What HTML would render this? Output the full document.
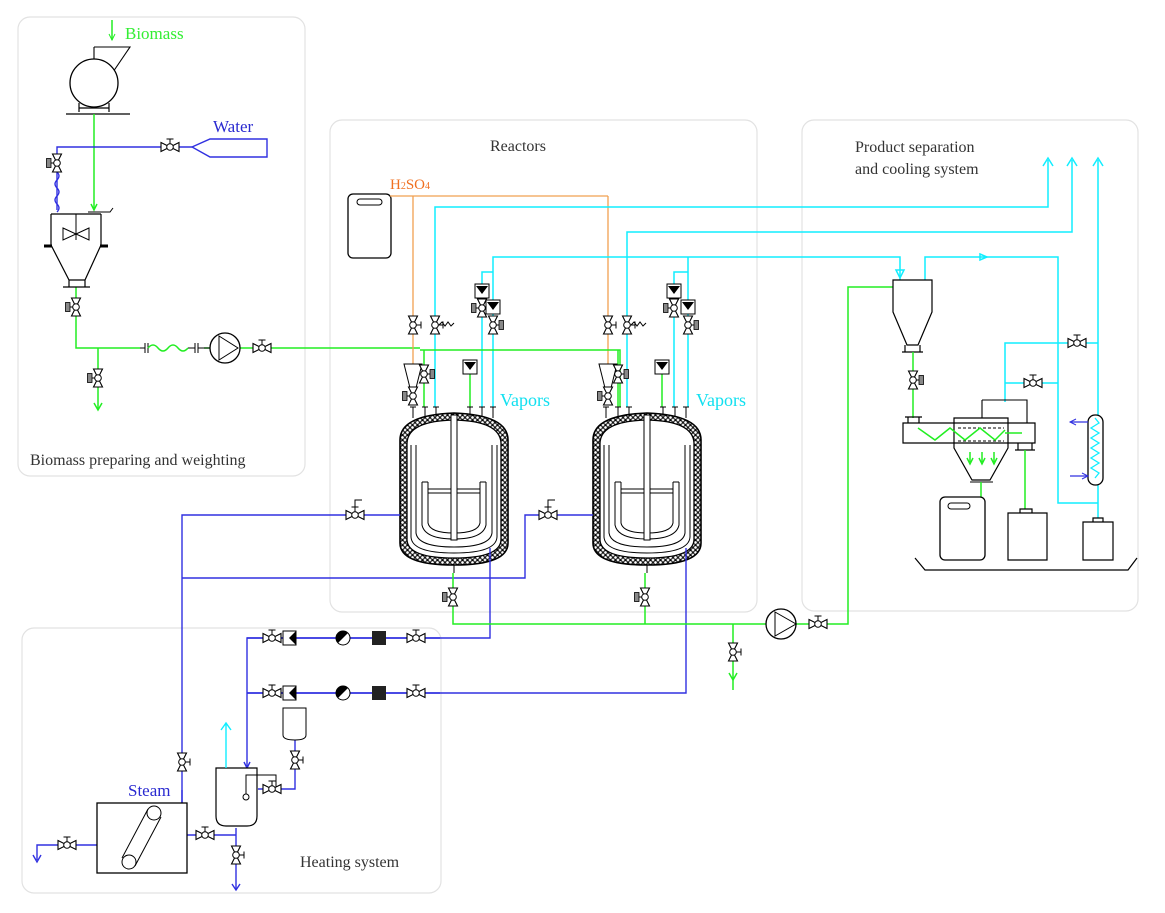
<!DOCTYPE html>
<html><head><meta charset="utf-8"><style>
html,body{margin:0;padding:0;background:#fff;}
svg{display:block;}
svg text{font-family:"Liberation Serif","DejaVu Serif","Times New Roman",serif !important;}
</style></head><body>
<svg width="1165" height="913" viewBox="0 0 1165 913" xmlns="http://www.w3.org/2000/svg" font-family="'Liberation Serif', 'DejaVu Serif', serif">
<defs>
<g id="hv"><path d="M-9,-4.5 L0,0 L-9,4.5 Z M9,-4.5 L0,0 L9,4.5 Z" fill="#fff" stroke="#000" stroke-width="1.1"/><circle r="3.3" fill="#fff" stroke="#000"/><path d="M0,-3 V-8 M-3.5,-8 H3.5" stroke="#000"/></g>
<g id="vv"><path d="M-4.5,-9 L0,0 L4.5,-9 Z M-4.5,9 L0,0 L4.5,9 Z" fill="#fff" stroke="#000" stroke-width="1.1"/><circle r="3.3" fill="#fff" stroke="#000"/><path d="M3,0 H8 M8,-3.5 V3.5" stroke="#000"/></g>
<g id="vvm"><path d="M-4.5,-9 L0,0 L4.5,-9 Z M-4.5,9 L0,0 L4.5,9 Z" fill="#fff" stroke="#000" stroke-width="1.1"/><circle r="3.3" fill="#fff" stroke="#000"/><path d="M3,0 H6" stroke="#000"/><rect x="6" y="-4.5" width="4.5" height="9" fill="#888" stroke="#000" stroke-width=".8"/></g>
<g id="vvml"><path d="M-4.5,-9 L0,0 L4.5,-9 Z M-4.5,9 L0,0 L4.5,9 Z" fill="#fff" stroke="#000" stroke-width="1.1"/><circle r="3.3" fill="#fff" stroke="#000"/><path d="M-3,0 H-6" stroke="#000"/><rect x="-10.5" y="-4.5" width="4.5" height="9" fill="#888" stroke="#000" stroke-width=".8"/></g>
<g id="inst"><rect x="-7" y="-7" width="14" height="14" fill="#fff" stroke="#000"/><path d="M-6,-5 H6 L0,3 Z" fill="#000"/></g>
<pattern id="ins" width="5" height="5" patternUnits="userSpaceOnUse"><rect width="5" height="5" fill="#fff"/><circle cx="2.5" cy="2.5" r="1.9" fill="none" stroke="#000" stroke-width="1.1"/></pattern>
<g id="reactor">
<path d="M0,25 Q0,0 54,-2 Q108,0 108,25 V128 Q108,150 54,150 Q0,150 0,128 Z" fill="url(#ins)" stroke="#000" stroke-width="1.6"/>
<path d="M7,28 Q8,6 54,5 Q100,6 101,28 V125 Q100,143 54,143 Q8,143 7,125 Z" fill="#fff" stroke="#000" stroke-width="1.3"/>
<path d="M11,30 V122 Q12,138 54,138 Q96,138 97,122 V30" fill="none" stroke="#000"/>
<path d="M16,30 V118 Q18,132 54,132 Q90,132 92,118 V30" fill="none" stroke="#000"/>
<path d="M22,67 V110 Q25,124 54,124 Q83,124 86,110 V67 M28,67 V108 Q30,118 54,118 Q78,118 80,108 V67 M22,67 H28 M80,67 H86 M28,74 H80 M28,78 H80" fill="none" stroke="#000"/>
<rect x="51" y="0" width="6" height="125" fill="#fff" stroke="#000"/>
<path d="M13,-8 V3 M25,-8 V2 M36,-8 V1 M70,-8 V1 M82,-8 V2 M93,-8 V3" stroke="#000"/>
<path d="M10,-8 H16 M22,-8 H28 M33,-8 H39 M67,-8 H73 M79,-8 H85 M90,-8 H96" stroke="#000"/>
<path d="M54,150 V158" stroke="#000"/>
</g>
</defs>

<g fill="none" stroke="#e2e2e2" stroke-width="1.2">
<rect x="18" y="17" width="287" height="459" rx="12"/>
<rect x="330" y="120" width="427" height="492" rx="12"/>
<rect x="802" y="120" width="336" height="491" rx="12"/>
<rect x="22" y="628" width="419" height="265" rx="12"/>
</g>

<text x="125" y="39" font-size="17" fill="#33ee33">Biomass</text>
<path d="M112,20 V40" stroke="#22ee22" fill="none" stroke-width="1.5"/><path d="M109,34 L112,40 L115,34" stroke="#22ee22" fill="none"/>
<path d="M94,47 H130 L113,72 M94,47 V60" fill="none" stroke="#000" stroke-width="1.1"/>
<circle cx="94" cy="83" r="24" fill="#fff" stroke="#000" stroke-width="1.3"/>
<path d="M79,103 V112 M109,103 V112 M79,108 H109 M66,114 H130" stroke="#000" fill="none" stroke-width="1.2"/>
<g stroke="#22ee22" fill="none" stroke-width="1.5">
<path d="M94,114 V210"/><path d="M91,204 L94,210 L97,204"/>
<path d="M76,287 V348 H420 M98,348 V410"/>
<path d="M94,403 L98,410 L102,403"/>
</g>
<path d="M57,210 V170 M57,155 V147 H192" stroke="#3030e0" fill="none" stroke-width="1.4"/>
<path d="M57,172 q4,4 0,8 q-4,4 0,8 q4,4 0,8 q-4,4 0,8 q4,4 0,8" stroke="#3030e0" fill="none" stroke-width="1.3"/>
<use href="#vvml" x="57" y="163"/>
<use href="#hv" x="170" y="147"/>
<path d="M192,147 L210,139 H267 V157 H210 Z" fill="none" stroke="#3030e0" stroke-width="1.4"/>
<text x="213" y="132" font-size="17" fill="#2a2ad0">Water</text>
<path d="M51,214 H101 M51,214 V245 L69,280 H85 L101,245 V214 M69,280 V287 M85,280 V287 M63,287 H90" fill="none" stroke="#000" stroke-width="1.2"/>
<path d="M76,214 V240 M63,228 L76,234 L63,240 Z M89,228 L76,234 L89,240 Z" fill="none" stroke="#000"/>
<path d="M44,246 H52 M100,246 H108" stroke="#000" stroke-width="3"/>
<path d="M88,212 H110 L113,208" stroke="#000" fill="none"/>
<use href="#vvml" x="76" y="307"/>
<use href="#vvml" x="98" y="378"/>
<rect x="140" y="340" width="64" height="16" fill="#fff"/>
<path d="M140,348 H145 M145,343 V353 M148,343 V353 M188,348 H195 M195,343 V353 M198,343 V353 M198,348 H210" stroke="#000" fill="none"/>
<path d="M148,348 q5,-6 10,0 q5,6 10,0 q5,-6 10,0 q5,6 10,0 L188,348" stroke="#22ee22" fill="none" stroke-width="1.5"/>
<circle cx="225" cy="348" r="15" fill="#fff" stroke="#000" stroke-width="1.3"/>
<path d="M219,336 L238,348 L219,360 Z" fill="none" stroke="#000"/>
<use href="#hv" x="262" y="348"/>
<text x="30" y="465" font-size="16" fill="#333">Biomass preparing and weighting</text>

<text x="490" y="151" font-size="16" fill="#333">Reactors</text>
<rect x="348" y="194" width="43" height="64" rx="5" fill="#fff" stroke="#000" stroke-width="1.3"/>
<rect x="357" y="199" width="25" height="6" rx="3" fill="none" stroke="#000"/>
<text x="390" y="189" font-size="15" fill="#f07020">H<tspan font-size="10">2</tspan>SO<tspan font-size="10">4</tspan></text>
<path d="M390,196 H608 M413,196 V370 M608,196 V370" stroke="#f0a050" fill="none" stroke-width="1.3"/>
<g stroke="#11eeff" fill="none" stroke-width="1.5">
<path d="M435,407 V207 H1048 V160"/>
<path d="M627,407 V232 H1072 V160"/>
<path d="M482,407 V272 H493 V257 H900 V280 M493,272 V407"/>
<path d="M674,407 V272 H688 V257 M688,272 V407"/>
<path d="M925,280 V257 H1058 V503 H1098 M1098,160 V525"/>
<path d="M1005,402 V343 H1098 M1005,383 H1058"/>
<path d="M1043,166 L1048,158 L1053,166 M1067,166 L1072,158 L1077,166 M1093,166 L1098,158 L1103,166"/>
<path d="M980,254 L987,257 L980,260 Z M896,270 L900,278 L904,270 Z"/>
</g>
<g stroke="#22ee22" fill="none" stroke-width="1.5">
<path d="M420,350 H620 V407 M424,350 V407 M618,350 V407"/>
<path d="M470,373 V407 M662,373 V407"/>
</g>
<text x="500" y="406" font-size="18" fill="#11e0f0">Vapors</text>
<text x="696" y="406" font-size="18" fill="#11e0f0">Vapors</text>
<g>
<use href="#vv" x="413" y="325"/><use href="#vv" x="435" y="325"/>
<path d="M439,325 l3,-3 l3,4 l3,-4 l3,4 l3,-3" stroke="#000" fill="none"/>
<use href="#vvml" x="482" y="308"/><use href="#vvm" x="493" y="325"/>
<use href="#inst" x="482" y="291"/><use href="#inst" x="493" y="307"/>
<use href="#inst" x="470" y="367"/>
<path d="M404,364 H422 L416,388 H410 Z" fill="#fff" stroke="#000"/>
<use href="#vvml" x="413" y="396"/><use href="#vvm" x="424" y="374"/>
</g>
<g>
<use href="#vv" x="608" y="325"/><use href="#vv" x="627" y="325"/>
<path d="M631,325 l3,-3 l3,4 l3,-4 l3,4 l3,-3" stroke="#000" fill="none"/>
<use href="#vvml" x="674" y="308"/><use href="#vvm" x="688" y="325"/>
<use href="#inst" x="674" y="291"/><use href="#inst" x="688" y="307"/>
<use href="#inst" x="662" y="367"/>
<path d="M599,364 H617 L611,388 H605 Z" fill="#fff" stroke="#000"/>
<use href="#vvml" x="608" y="396"/><use href="#vvm" x="618" y="374"/>
</g>
<use href="#reactor" x="400" y="415"/>
<use href="#reactor" x="593" y="415"/>
<g stroke="#3030e0" fill="none" stroke-width="1.4">
<path d="M182,803 V515 H400"/>
<path d="M182,578 H525 V515 H593"/>
<path d="M490,548 V638 H247 V768"/>
<path d="M686,548 V693 H247"/>
<path d="M97,845 H37 V860 M182,803 V790"/>
<path d="M187,835 H236 M236,828 V890"/>
<path d="M244,762 L247,768 L250,762 M33,855 L37,862 L41,855 M232,884 L236,890 L240,884"/>
<path d="M295,740 V789 H258"/>
<path d="M247,638 H440 M247,693 H440"/>
</g>
<use href="#hv" x="355" y="515"/><path d="M355,508 V500 H362" stroke="#000" fill="none"/>
<use href="#hv" x="548" y="515"/><path d="M548,508 V500 H555" stroke="#000" fill="none"/>
<g stroke="#22ee22" fill="none" stroke-width="1.5">
<path d="M453,573 V624 H848 V287 H893 M645,573 V624 M733,624 V690"/>
<path d="M729,673 L733,680 L737,673"/>
</g>
<use href="#vvml" x="453" y="597"/><use href="#vvml" x="645" y="597"/>
<use href="#vv" x="733" y="652"/>
<circle cx="781" cy="624" r="15" fill="#fff" stroke="#000" stroke-width="1.3"/>
<path d="M775,612 L796,624 L775,636 Z" fill="none" stroke="#000"/>
<use href="#hv" x="818" y="624"/>

<text x="855" y="152" font-size="16" fill="#333">Product separation</text>
<text x="855" y="174" font-size="16" fill="#333">and cooling system</text>
<path d="M893,280 H932 V312 L918,345 H907 L893,312 Z M905,345 V352 M920,345 V352 M902,352 H923" fill="#fff" stroke="#000" stroke-width="1.2"/>
<path d="M913,352 V418" stroke="#22ee22" stroke-width="1.5"/>
<use href="#vvm" x="913" y="380"/>
<path d="M903,423 H1035 V443 H903 Z M905,417 H922 M908,417 V423 M919,417 V423 M1018,443 V450 M1032,443 V450 M1015,450 H1035" fill="none" stroke="#000" stroke-width="1.2"/>
<path d="M954,418 H1008 V448 L990,480 H972 L954,448 Z" fill="none" stroke="#000" stroke-width="1.2"/>
<path d="M970,482 H993 M982,400 H1027 V423 M982,400 V418" stroke="#000" fill="none" stroke-width="1.1"/>
<path d="M958,428 H1004 M958,441 H1004" stroke="#000" stroke-dasharray="3,2"/>
<g stroke="#22ee22" fill="none" stroke-width="1.5">
<path d="M918,428 L935,440 L950,428 L965,440 L980,428 L995,440 L1005,430 M1005,433 H1022 M970,452 V462 M982,452 V462 M994,452 V462 M981,482 V497 M1025,450 V513"/>
<path d="M967,458 L970,464 L973,458 M979,458 L982,464 L985,458 M991,458 L994,464 L997,458"/>
</g>
<rect x="940" y="497" width="45" height="63" rx="5" fill="#fff" stroke="#000" stroke-width="1.3"/>
<rect x="948" y="503" width="22" height="6" rx="3" fill="none" stroke="#000"/>
<path d="M1008,513 H1047 V560 H1008 Z M1020,513 V509 H1032 V513" fill="#fff" stroke="#000" stroke-width="1.2"/>
<path d="M1083,522 H1113 V560 H1083 Z M1093,522 V518 H1103 V522" fill="#fff" stroke="#000" stroke-width="1.2"/>
<path d="M915,558 L925,570 H1128 L1137,558" fill="none" stroke="#000" stroke-width="1.2"/>
<rect x="1088" y="415" width="15" height="70" rx="7" fill="#fff" stroke="#000" stroke-width="1.3"/>
<path d="M1095,418 l4,5 l-8,5 l8,5 l-8,5 l8,5 l-8,5 l8,5 l-8,5 l8,5 l-8,5 l8,5 l-4,5" stroke="#11eeff" fill="none" stroke-width="1.3"/>
<path d="M1088,422 H1070 M1088,476 H1070" stroke="#3030e0" stroke-width="1.3"/>
<path d="M1076,419 L1070,422 L1076,425 M1082,473 L1088,476 L1082,479" stroke="#3030e0" fill="none"/>
<use href="#hv" x="1077" y="343"/><use href="#hv" x="1033" y="383"/>

<g>
<use href="#hv" x="272" y="638"/><use href="#hv" x="272" y="693"/>
<rect x="283" y="631" width="13" height="14" fill="#fff" stroke="#000"/><path d="M296,631 L289,638 L296,645 Z" fill="#000"/>
<rect x="283" y="686" width="13" height="14" fill="#fff" stroke="#000"/><path d="M296,686 L289,693 L296,700 Z" fill="#000"/>
<circle cx="343" cy="638" r="7" fill="#fff" stroke="#000"/><path d="M338,643 A7,7 0 0 1 348,633 Z" fill="#000"/>
<circle cx="343" cy="693" r="7" fill="#fff" stroke="#000"/><path d="M338,698 A7,7 0 0 1 348,688 Z" fill="#000"/>
<rect x="372" y="631" width="14" height="14" fill="#222"/><rect x="372" y="686" width="14" height="14" fill="#222"/>
<use href="#hv" x="416" y="638"/><use href="#hv" x="416" y="693"/>
</g>
<rect x="97" y="803" width="90" height="70" fill="#fff" stroke="#000" stroke-width="1.3"/>
<circle cx="154" cy="813" r="7" fill="none" stroke="#000"/><circle cx="129" cy="862" r="7" fill="none" stroke="#000"/>
<path d="M148,809 L122,858 M161,817 L135,866" stroke="#000"/>
<text x="128" y="796" font-size="17" fill="#2a2ad0">Steam</text>
<use href="#vv" x="182" y="762"/>
<use href="#hv" x="67" y="845"/>
<use href="#hv" x="205" y="835"/>
<path d="M216,768 H257 V816 Q257,826 247,826 H226 Q216,826 216,816 Z" fill="#fff" stroke="#000" stroke-width="1.2"/>
<path d="M226,768 V724 M221,730 L226,723 L231,730" stroke="#11eeff" fill="none" stroke-width="1.4"/>
<path d="M246,795 V775 H276 V789" stroke="#000" fill="none"/><circle cx="246" cy="797" r="3" fill="#fff" stroke="#000"/>
<path d="M283,708 H306 V735 Q306,740 295,740 Q283,740 283,735 Z" fill="#fff" stroke="#000"/>
<use href="#vv" x="295" y="760"/>
<use href="#hv" x="272" y="789"/>
<use href="#vv" x="236" y="855"/>
<text x="300" y="867" font-size="16" fill="#333">Heating system</text>
</svg>
</body></html>
